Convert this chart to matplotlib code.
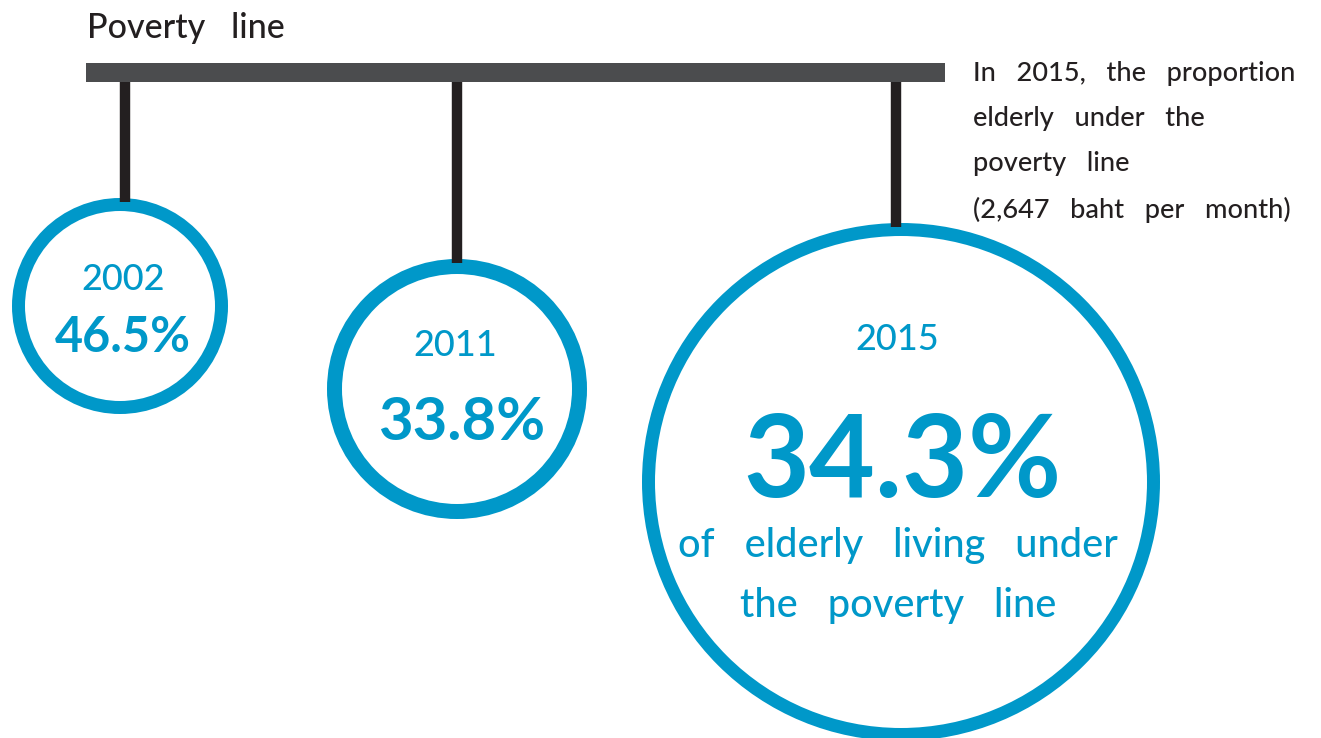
import matplotlib.pyplot as plt
from matplotlib.patches import Circle, Rectangle

# data
years = ['2002', '2011', '2015']
shares = [46.5, 33.8, 34.3]
title = 'Poverty   line'
note_lines = ['In   2015,   the   proportion',
              'elderly   under   the',
              'poverty   line',
              '(2,647   baht   per   month)']
caption_lines = ['of   elderly   living   under', 'the   poverty   line']

# layout (pixels)
cx = [120, 457, 901]
cy = [306, 389, 482]
r_out = [108, 130, 259]
ring = [13, 15, 13]
stem_x = [125, 457, 896]
year_x = [123, 455, 897]
year_y = [280, 346, 339]
year_size = [26, 26, 26]
pct_x = [123, 462, 902]
pct_y = [338, 423, 464]
pct_size = [35, 43, 82]

blue = '#0098c9'
dark = '#231f20'

plt.rcParams['font.family'] = ['Lato', 'DejaVu Sans']

fig = plt.figure(figsize=(13.21, 7.38), dpi=100)
ax = fig.add_axes([0, 0, 1, 1])
ax.set_xlim(0, 1321)
ax.set_ylim(738, 0)
ax.axis('off')

# poverty line bar
ax.add_patch(Rectangle((86, 63), 945 - 86, 19, color='#4b4c4e', lw=0))
ax.text(87, 28, title, fontsize=24.5, color=dark, va='center', ha='left',
        fontweight='medium')

for i in range(len(years)):
    top = cy[i] - r_out[i]
    ax.plot([stem_x[i], stem_x[i]], [82, top + 4], color=dark, lw=7.5,
            solid_capstyle='butt')
    ax.add_patch(Circle((cx[i], cy[i]), r_out[i] - ring[i] / 2, fill=False,
                        ec=blue, lw=ring[i] * 0.72))
    ax.text(year_x[i], year_y[i], years[i], fontsize=year_size[i],
            color=blue, ha='center', va='center', fontweight='medium')
    ax.text(pct_x[i], pct_y[i], f'{shares[i]:.1f}%', fontsize=pct_size[i],
            color=blue, ha='center', va='center', fontweight='bold')

cap_y = [546, 606]
for line, y in zip(caption_lines, cap_y):
    ax.text(898, y, line, fontsize=28.5, color=blue, ha='center',
            va='center', fontweight='medium')

for k, line in enumerate(note_lines):
    ax.text(973, 73 + k * 45.5, line, fontsize=19.5, color=dark,
            ha='left', va='center', fontweight='medium')

fig.savefig('out.png', dpi=100)
